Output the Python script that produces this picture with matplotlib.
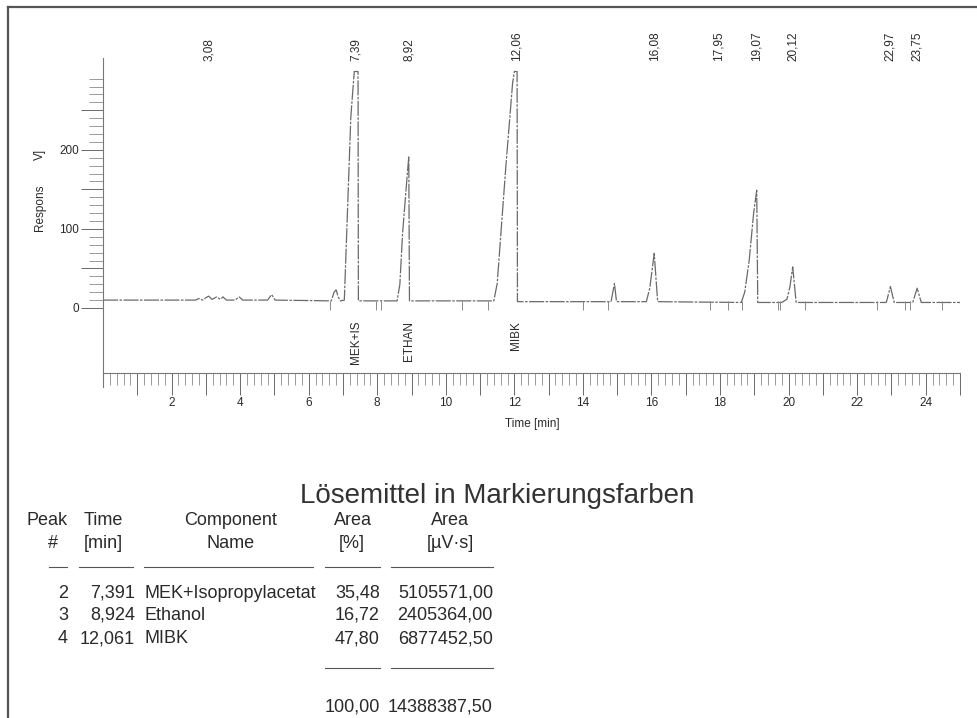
import matplotlib
matplotlib.use("Agg")
import matplotlib.pyplot as plt
from matplotlib.lines import Line2D
import numpy as np

plt.rcParams['font.family'] = ['Liberation Sans', 'DejaVu Sans']

W, H = 978, 718

# chromatogram trace (time [min], response)
trace_time = [0.0, 2.7, 2.8, 2.9, 3.0, 3.08, 3.18, 3.32, 3.42, 3.5, 3.6, 3.85, 3.97, 4.08,
              4.8, 4.92, 5.02, 6.66, 6.74, 6.8, 6.86, 6.93, 7.04, 7.23, 7.33, 7.44, 7.45,
              8.58, 8.66, 8.74, 8.88, 8.92, 8.94, 11.40, 11.50, 11.75, 11.95, 12.0, 12.08, 12.09,
              14.82, 14.92, 14.98, 15.85, 15.95, 16.08, 16.18, 18.62, 18.72, 18.85, 18.98, 19.07, 19.1,
              19.8, 19.95, 20.04, 20.12, 20.22, 22.85, 22.97, 23.08, 23.62, 23.75, 23.87, 25.0]
trace_resp = [10, 10, 12, 10, 13, 15, 11, 14, 11, 14, 10, 10, 14, 10,
              10, 17, 10, 9, 20, 23, 14, 9, 10, 242, 299, 299, 9,
              9, 30, 95, 171, 191, 9, 9, 31, 178, 285, 299, 299, 8,
              8, 31, 8, 8, 25, 69, 8, 7, 20, 60, 120, 149, 7,
              7, 11, 27, 52, 7, 7, 27, 7, 7, 25, 7, 7]

peak_times = [3.08, 7.39, 8.92, 12.06, 16.08, 17.95, 19.07, 20.12, 22.97, 23.75]
peak_labels = ['3,08', '7,39', '8,92', '12,06', '16,08', '17,95', '19,07', '20,12', '22,97', '23,75']

comp_times = [7.39, 8.92, 12.06]
comp_labels = ['MEK+IS', 'ETHAN', 'MIBK']

event_marks = [6.62, 7.95, 8.1, 10.46, 11.22, 14.0, 14.73, 17.7, 18.23, 18.63,
               19.7, 19.75, 20.48, 22.57, 23.4, 23.54, 24.47]

# result table
title = 'Lösemittel in Markierungsfarben'
peak_no = ['2', '3', '4']
ret_time = ['7,391', '8,924', '12,061']
comp_name = ['MEK+Isopropylacetat', 'Ethanol', 'MIBK']
area_pct = ['35,48', '16,72', '47,80']
area_abs = ['5105571,00', '2405364,00', '6877452,50']
total_pct = '100,00'
total_abs = '14388387,50'

ink = '#2a2a2a'
grey = '#6a6a6a'
afs = 8.5


def fx(x):
    return x / W


def fy(y):
    return 1 - y / H


fig = plt.figure(figsize=(W / 100, H / 100), dpi=100)
fig.patch.set_facecolor('white')

# page frame (left and top edge of the scan)
fig.add_artist(Line2D([fx(8), fx(8)], [fy(7), fy(718)], color='#555555', lw=1.6))
fig.add_artist(Line2D([fx(8), fx(978)], [fy(7), fy(7)], color='#555555', lw=1.6))

ax = fig.add_axes([fx(103), fy(395), fx(960 - 103), (395 - 47) / H])
ax.set_xlim(0, 25)
ax.set_ylim(-110, 330)
ax.patch.set_alpha(0)

ax.plot(trace_time, trace_resp, color='#6a6a6a', lw=0.9,
        linestyle=(0, (12, 1.2, 2, 1.2)))
ax.vlines(event_marks, -2, 9, color='#8a8a8a', lw=0.7)

for t, lab in zip(peak_times, peak_labels):
    ax.text(t, 312, lab, rotation=90, ha='center', va='bottom', fontsize=afs, color=ink)
for t, lab in zip(comp_times, comp_labels):
    ax.text(t, -16, lab, rotation=90, ha='center', va='top', fontsize=afs, color=ink)

for s in ['top', 'right']:
    ax.spines[s].set_visible(False)
ax.spines['bottom'].set_position(('data', -82))
ax.spines['bottom'].set_bounds(0, 25)
ax.spines['left'].set_bounds(-100, 316)
for s in ['bottom', 'left']:
    ax.spines[s].set_color('#777777')
    ax.spines[s].set_linewidth(0.8)
    ax.spines[s].set_linestyle((0, (6, 1)))

xt = np.arange(1, 26)
ax.set_xticks(xt)
ax.set_xticklabels([str(v) if v % 2 == 0 and v < 25 else '' for v in xt])
ax.set_xticks(np.arange(0, 25.01, 0.2), minor=True)
yt = np.arange(0, 251, 50)
ax.set_yticks(yt)
ax.set_yticklabels([str(v) if v % 100 == 0 else '' for v in yt])
ax.set_yticks(np.arange(0, 291, 10), minor=True)

ax.tick_params(axis='x', which='major', length=16, width=0.7, color=grey,
               labelsize=afs, labelcolor=ink, pad=1.5)
ax.tick_params(axis='x', which='minor', length=8.5, width=0.6, color='#8a8a8a')
ax.tick_params(axis='y', which='major', length=16, width=0.7, color=grey,
               labelsize=afs, labelcolor=ink, pad=1.5)
ax.tick_params(axis='y', which='minor', length=10, width=0.6, color='#8a8a8a')

fig.text(fx(532), fy(427), 'Time [min]', ha='center', va='baseline', fontsize=afs, color=ink)
fig.text(fx(40), fy(208), 'Respons', rotation=90, ha='center', va='center', fontsize=afs, color=ink)
fig.text(fx(40), fy(154), 'V]', rotation=90, ha='center', va='center', fontsize=afs, color=ink)

# title and table
fig.text(fx(497), fy(503), title, ha='center', va='baseline', fontsize=20, color='#333333')

fs = 13
hdr1 = [(47, 'Peak'), (103, 'Time'), (231, 'Component'), (353, 'Area'), (450, 'Area')]
hdr2 = [(53, '#'), (103, '[min]'), (231, 'Name'), (352, '[%]'), (450, '[µV·s]')]
for x, s in hdr1:
    fig.text(fx(x), fy(525), s, ha='center', va='baseline', fontsize=fs, color=ink)
for x, s in hdr2:
    fig.text(fx(x), fy(548), s, ha='center', va='baseline', fontsize=fs, color=ink)

for x0, x1 in [(49, 67), (79, 133), (144, 313), (325, 380), (391, 493)]:
    fig.add_artist(Line2D([fx(x0), fx(x1)], [fy(567), fy(567)], color='#555555', lw=0.8))

row_y = [598, 620, 643]
for i, y in enumerate(row_y):
    fig.text(fx(68), fy(y), peak_no[i], ha='right', va='baseline', fontsize=fs, color=ink)
    fig.text(fx(135), fy(y), ret_time[i], ha='right', va='baseline', fontsize=fs, color=ink)
    fig.text(fx(144), fy(y), comp_name[i], ha='left', va='baseline', fontsize=fs, color=ink)
    fig.text(fx(380), fy(y), area_pct[i], ha='right', va='baseline', fontsize=fs, color=ink)
    fig.text(fx(493), fy(y), area_abs[i], ha='right', va='baseline', fontsize=fs, color=ink)

for x0, x1 in [(325, 380), (391, 493)]:
    fig.add_artist(Line2D([fx(x0), fx(x1)], [fy(668), fy(668)], color='#555555', lw=0.8))

fig.text(fx(380), fy(711), total_pct, ha='right', va='baseline', fontsize=fs, color=ink)
fig.text(fx(493), fy(711), total_abs, ha='right', va='baseline', fontsize=fs, color=ink)

fig.savefig('out.png', dpi=100)
